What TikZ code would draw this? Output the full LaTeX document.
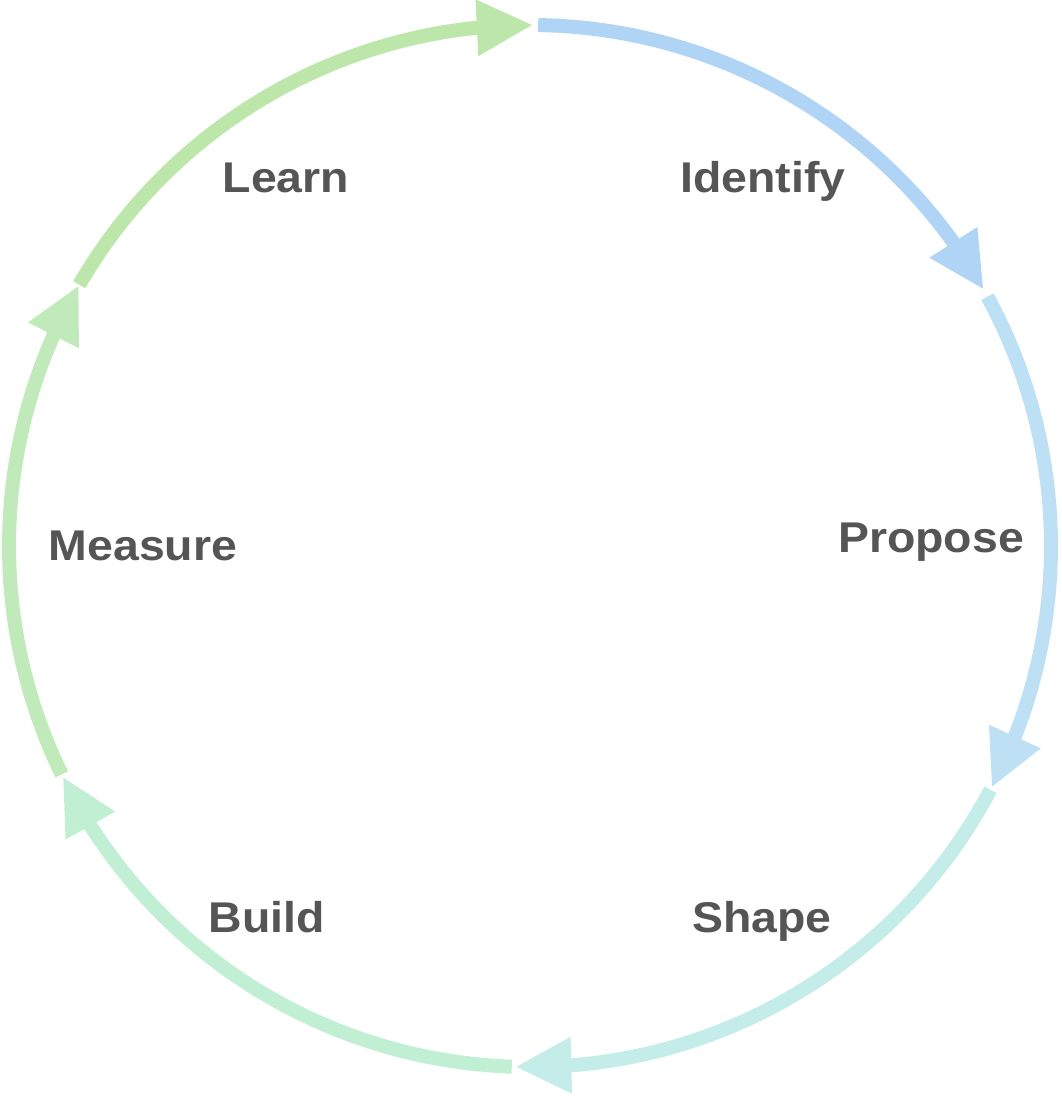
\documentclass[tikz,border=0pt]{standalone}
\usepackage{fontspec}
\usetikzlibrary{calc}
\newfontfamily\lab{Liberation Sans}[FakeStretch=1.08]
\definecolor{cIdentify}{RGB}{176,212,245}
\definecolor{cPropose}{RGB}{190,224,244}
\definecolor{cShape}{RGB}{196,236,232}
\definecolor{cBuild}{RGB}{193,239,212}
\definecolor{cMeasure}{RGB}{192,234,185}
\definecolor{cLearn}{RGB}{189,230,170}
\definecolor{labelgray}{RGB}{85,85,85}
\begin{document}
\begin{tikzpicture}[x=1pt,y=1pt,
  cyclearc/.style={line width=14pt},
  lbl/.style={font=\lab\bfseries\fontsize{43}{50}\selectfont, text=labelgray, anchor=base, inner sep=0pt}]
\useasboundingbox (0,0) rectangle (1062,1096);
\coordinate (C) at (530,550);
\def\R{521}
\foreach \a/\b/\c/\n in {89.1/29.6/cIdentify/1, 28.6/-27.5/cPropose/2, -27.9/-91.5/cShape/3, -92/-153.6/cBuild/4, -154/-209.9/cMeasure/5, 149.9/89.8/cLearn/6}{
  \pgfmathsetmacro\bb{\b+6.05}
  \pgfmathsetmacro\bm{\b+3.0}
  \pgfmathsetmacro\bo{\bm+180}
  \pgfmathsetmacro\be{\bb-0.8}
  \coordinate (s\n) at ($(C)+(\a:\R)$);
  \coordinate (t\n) at ($(C)+(\b:\R)$);
  \coordinate (b\n) at ($(C)+(\bb:\R)$);
  \draw[cyclearc, draw=\c] (s\n) arc[start angle=\a, end angle=\be, radius=\R];
  \fill[\c] (t\n) -- ($(b\n)+(\bm:28.5)$) -- ($(b\n)+(\bo:28.5)$) -- cycle;
}
\node[lbl] (identify) at (763,903) {Identify};
\node[lbl] (propose) at (931,543) {Propose};
\node[lbl] (shape) at (762,163) {Shape};
\node[lbl] (build) at (267,163) {Build};
\node[lbl] (measure) at (143,535) {Measure};
\node[lbl] (learn) at (286,903) {Learn};
\end{tikzpicture}
\end{document}
